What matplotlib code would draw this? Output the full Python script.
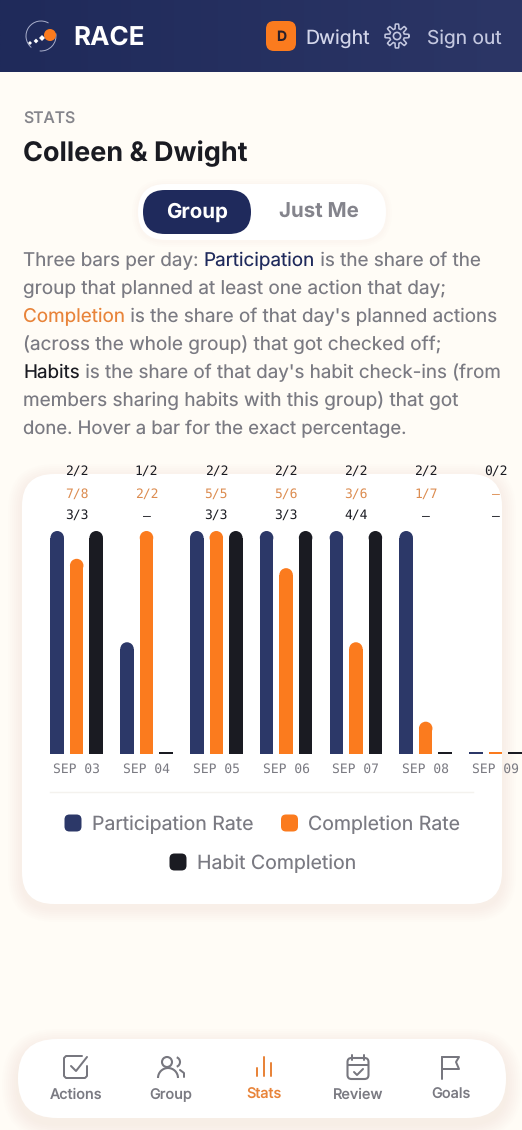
import numpy as np
import matplotlib
matplotlib.use('Agg')
import matplotlib.pyplot as plt
from matplotlib.patches import FancyBboxPatch, Ellipse, Circle, Arc, Polygon

plt.rcParams['text.hinting'] = 'no_hinting'
plt.rcParams['text.hinting_factor'] = 1

W, H = 522, 1130
SANS = 'Inter'
MONO = 'DejaVu Sans Mono'
PX = 0.72

NAVY = '#1f2a5c'
BAR_NAVY = '#2c3868'
ORANGE = '#fb7b1e'
INK = '#1a1b22'
GREY = '#7a7a82'
MUTED_ORANGE = '#dc8c50'
BG = '#fffcf6'

days = ['SEP 03', 'SEP 04', 'SEP 05', 'SEP 06', 'SEP 07', 'SEP 08', 'SEP 09']
participation = [100, 50, 100, 100, 100, 100, 0]
completion = [87.5, 100, 100, 83.3, 50, 14.3, 0]
habits = [100, 0, 100, 100, 100, 0, 0]
participation_labels = ['2/2', '1/2', '2/2', '2/2', '2/2', '2/2', '0/2']
completion_labels = ['7/8', '2/2', '5/5', '5/6', '3/6', '1/7', '–']
habit_labels = ['3/3', '–', '3/3', '3/3', '4/4', '–', '–']
nav_items = ['Actions', 'Group', 'Stats', 'Review', 'Goals']

fig = plt.figure(figsize=(W / 100, H / 100), dpi=100, facecolor=BG)
ui = fig.add_axes([0, 0, 1, 1])
ui.set_xlim(0, W)
ui.set_ylim(H, 0)
ui.axis('off')


def label(x, y, s, size, color, weight='normal', ha='left', family=SANS):
    return ui.text(x, y, s, fontsize=size * PX, color=color, fontweight=weight,
                   ha=ha, va='baseline', family=family, zorder=6)


def rbox(x0, y0, x1, y1, r, color, z=2, alpha=1.0):
    p = FancyBboxPatch((x0, y0), x1 - x0, y1 - y0,
                       boxstyle=f'round,pad=0,rounding_size={r}',
                       fc=color, ec='none', alpha=alpha, zorder=z)
    ui.add_patch(p)
    return p


def shadow(x0, y0, x1, y1, r, spread=14, dy=4):
    for k in range(spread, 0, -2):
        rbox(x0 - k, y0 - k + dy, x1 + k, y1 + k + dy, r + k, '#b89c78', z=1, alpha=0.012)


def stroke(xs, ys, color, lw=2.0, z=5):
    ui.plot(xs, ys, color=color, lw=lw * PX, solid_capstyle='round',
            solid_joinstyle='round', zorder=z)


# header
grad = np.linspace(0, 1, 256).reshape(1, -1)
cmap = matplotlib.colors.LinearSegmentedColormap.from_list('hdr', ['#1f2a5a', '#2c3666'])
ui.imshow(grad, extent=(0, W, 72.5, 0), cmap=cmap, aspect='auto', zorder=1)
ui.set_xlim(0, W)
ui.set_ylim(H, 0)

# logo
ui.add_patch(Arc((41, 36), 30, 30, theta1=-10, theta2=95, ec='#aab0cc', lw=0.7, zorder=3))
ui.add_patch(Arc((41, 36), 30, 30, theta1=130, theta2=300, ec='#aab0cc', lw=0.7, zorder=3))
ui.add_patch(Circle((50, 35), 6, fc=ORANGE, ec='none', zorder=4))
for cx, cy, s in [(30, 43, 2), (36, 41, 2.4), (42, 38, 3)]:
    ui.add_patch(Polygon([(cx - s, cy), (cx, cy - s), (cx + s, cy), (cx, cy + s)],
                         fc='white', ec='none', zorder=5))
label(73, 45, 'RACE', 26, 'white', 'bold')

rbox(266, 21, 296, 51, 8, ORANGE, z=3)
label(281, 41, 'D', 14, '#2a1f2a', 'bold', ha='center')
label(305, 44, 'Dwight', 19.5, '#d3d6ea')
label(427, 44, 'Sign out', 19.2, '#c4c8e0')

# gear icon
ang = np.linspace(0, 2 * np.pi, 241)
rad = 9.7 + 2.3 * np.clip(2.2 * np.cos(8 * ang), -1, 1)
ui.plot(397 + rad * np.cos(ang), 36 + rad * np.sin(ang), color='#c4c8e0', lw=1.1, zorder=4)
ui.add_patch(Circle((397, 36), 3.6, fc='none', ec='#c4c8e0', lw=1.2, zorder=4))

# headings
label(23, 124, 'STATS', 15.8, '#85858b', 'medium')
label(23, 161, 'Colleen & Dwight', 27, INK, 'bold')

# toggle
shadow(138, 184, 386, 240, 28, spread=6, dy=1)
rbox(138, 184, 386, 240, 28, 'white')
rbox(143, 190, 251, 234, 22, NAVY, z=3)
label(197, 218, 'Group', 20.5, 'white', 'bold', ha='center')
label(319, 218, 'Just Me', 20.5, '#84848c', 'bold', ha='center')

# paragraph
paragraph = [
    (18.9, [('Three bars per day: ', GREY), ('Participation', NAVY), (' is the share of the', GREY)]),
    (19, [('group that planned at least one action that day;', GREY)]),
    (18.9, [('Completion', '#e8843a'), (" is the share of that day's planned actions", GREY)]),
    (19, [('(across the whole group) that got checked off;', GREY)]),
    (18.8, [('Habits', INK), (" is the share of that day's habit check-ins (from", GREY)]),
    (19, [('members sharing habits with this group) that got', GREY)]),
    (18.5, [('done. Hover a bar for the exact percentage.', GREY)]),
]
renderer = fig.canvas.get_renderer()
for i, (size, runs) in enumerate(paragraph):
    x = 23
    for s, c in runs:
        t = label(x, 266 + 28 * i, s, size, c)
        x = ui.transData.inverted().transform(t.get_window_extent(renderer).get_points())[1, 0]

# card
shadow(22, 474, 502, 904, 32)
rbox(22, 474, 502, 904, 32, 'white')
ui.plot([50, 473], [792, 792], color='#f4f2ee', lw=1.4 * PX, zorder=3)

# legend
for x, y, s, c in [(73, 823, 'Participation Rate', BAR_NAVY),
                   (289.5, 823, 'Completion Rate', ORANGE),
                   (178, 862, 'Habit Completion', INK)]:
    rbox(x - 8.5, y - 8.5, x + 8.5, y + 8.5, 5, c, z=3)
    label(x + 19, y + 7, s, 19.5, GREY)

# nav bar
shadow(18, 1039, 506, 1118, 39, spread=16, dy=6)
rbox(18, 1039, 506, 1118, 39, 'white')
for x, s in zip([76, 171, 264, 358, 451], nav_items):
    if s == 'Stats':
        label(x, 1099, s, 14.5, '#e8843a', 'medium', ha='center')
    else:
        label(x, 1099, s, 14.5, GREY, 'medium', ha='center')

ICON = '#77777f'
# actions
stroke([87, 87, 85, 66, 64, 64, 66, 82], [1066, 1076, 1078, 1078, 1076, 1058, 1056, 1056], ICON)
stroke([71, 76, 87], [1066, 1071, 1057], ICON)
# group
ui.add_patch(Circle((167, 1062), 5, fc='none', ec=ICON, lw=1.5, zorder=5))
ui.add_patch(Arc((168, 1078), 20, 20, theta1=180, theta2=360, ec=ICON, lw=1.5, zorder=5))
ui.add_patch(Arc((175, 1062), 10, 10, theta1=-70, theta2=70, ec=ICON, lw=1.5, zorder=5))
stroke([180, 184, 184], [1070, 1073, 1077], ICON)
# stats
for x, y0 in [(257, 1068), (264, 1057), (271, 1063)]:
    stroke([x, x], [y0, 1076], '#e8843a')
# review
rbox(347.5, 1058, 368.5, 1079, 4, 'white', z=4).set(ec=ICON, lw=1.5)
stroke([348, 368], [1065, 1065], ICON)
stroke([352, 352], [1055, 1060], ICON)
stroke([364, 364], [1055, 1060], ICON)
stroke([354, 357, 363], [1072, 1075, 1069], ICON)
# goals
stroke([442, 442], [1079, 1057], ICON)
stroke([442, 459, 456, 459, 442], [1057, 1057, 1062, 1069, 1069], ICON)

# chart
bar_h = 222.5
ax = fig.add_axes([0, (H - 753.5) / H, 1, bar_h / H], zorder=5)
ax.patch.set_alpha(0)
step = 69.8
ax.set_xlim(-76.7 / step, (W - 76.7) / step)
ax.set_ylim(0, 100)
for sp in ax.spines.values():
    sp.set_visible(False)
ax.set_yticks([])
x = np.arange(len(days))
width = 13.5 / step
ry = 6.75 / bar_h * 100
dash = 2 / bar_h * 100
series = [(participation, BAR_NAVY, -19.5 / step),
          (completion, ORANGE, 0),
          (habits, INK, 19.5 / step)]
for vals, color, off in series:
    for xi, v in zip(x, vals):
        if v > 0:
            ax.bar(xi + off, v - ry, width, color=color, linewidth=0)
            ax.add_patch(Ellipse((xi + off, v - ry), width, 2 * ry, fc=color, ec='none'))
        else:
            ax.bar(xi + off, dash, width, color=color, linewidth=0)
ax.set_xticks(x)
ax.set_xticklabels(days, family=MONO, fontsize=12.8 * PX, color=GREY)
ax.tick_params(axis='x', length=0, pad=7)

for labels, color, offset in [(participation_labels, INK, 60),
                              (completion_labels, MUTED_ORANGE, 37),
                              (habit_labels, INK, 15.5)]:
    for xi, s in zip(x, labels):
        ax.annotate(s, (xi, 100), xytext=(0, offset * PX), textcoords='offset points',
                    ha='center', va='center', family=MONO, fontsize=12.6 * PX,
                    color=color, annotation_clip=False)

fig.savefig('out.png', dpi=100, facecolor=BG)
